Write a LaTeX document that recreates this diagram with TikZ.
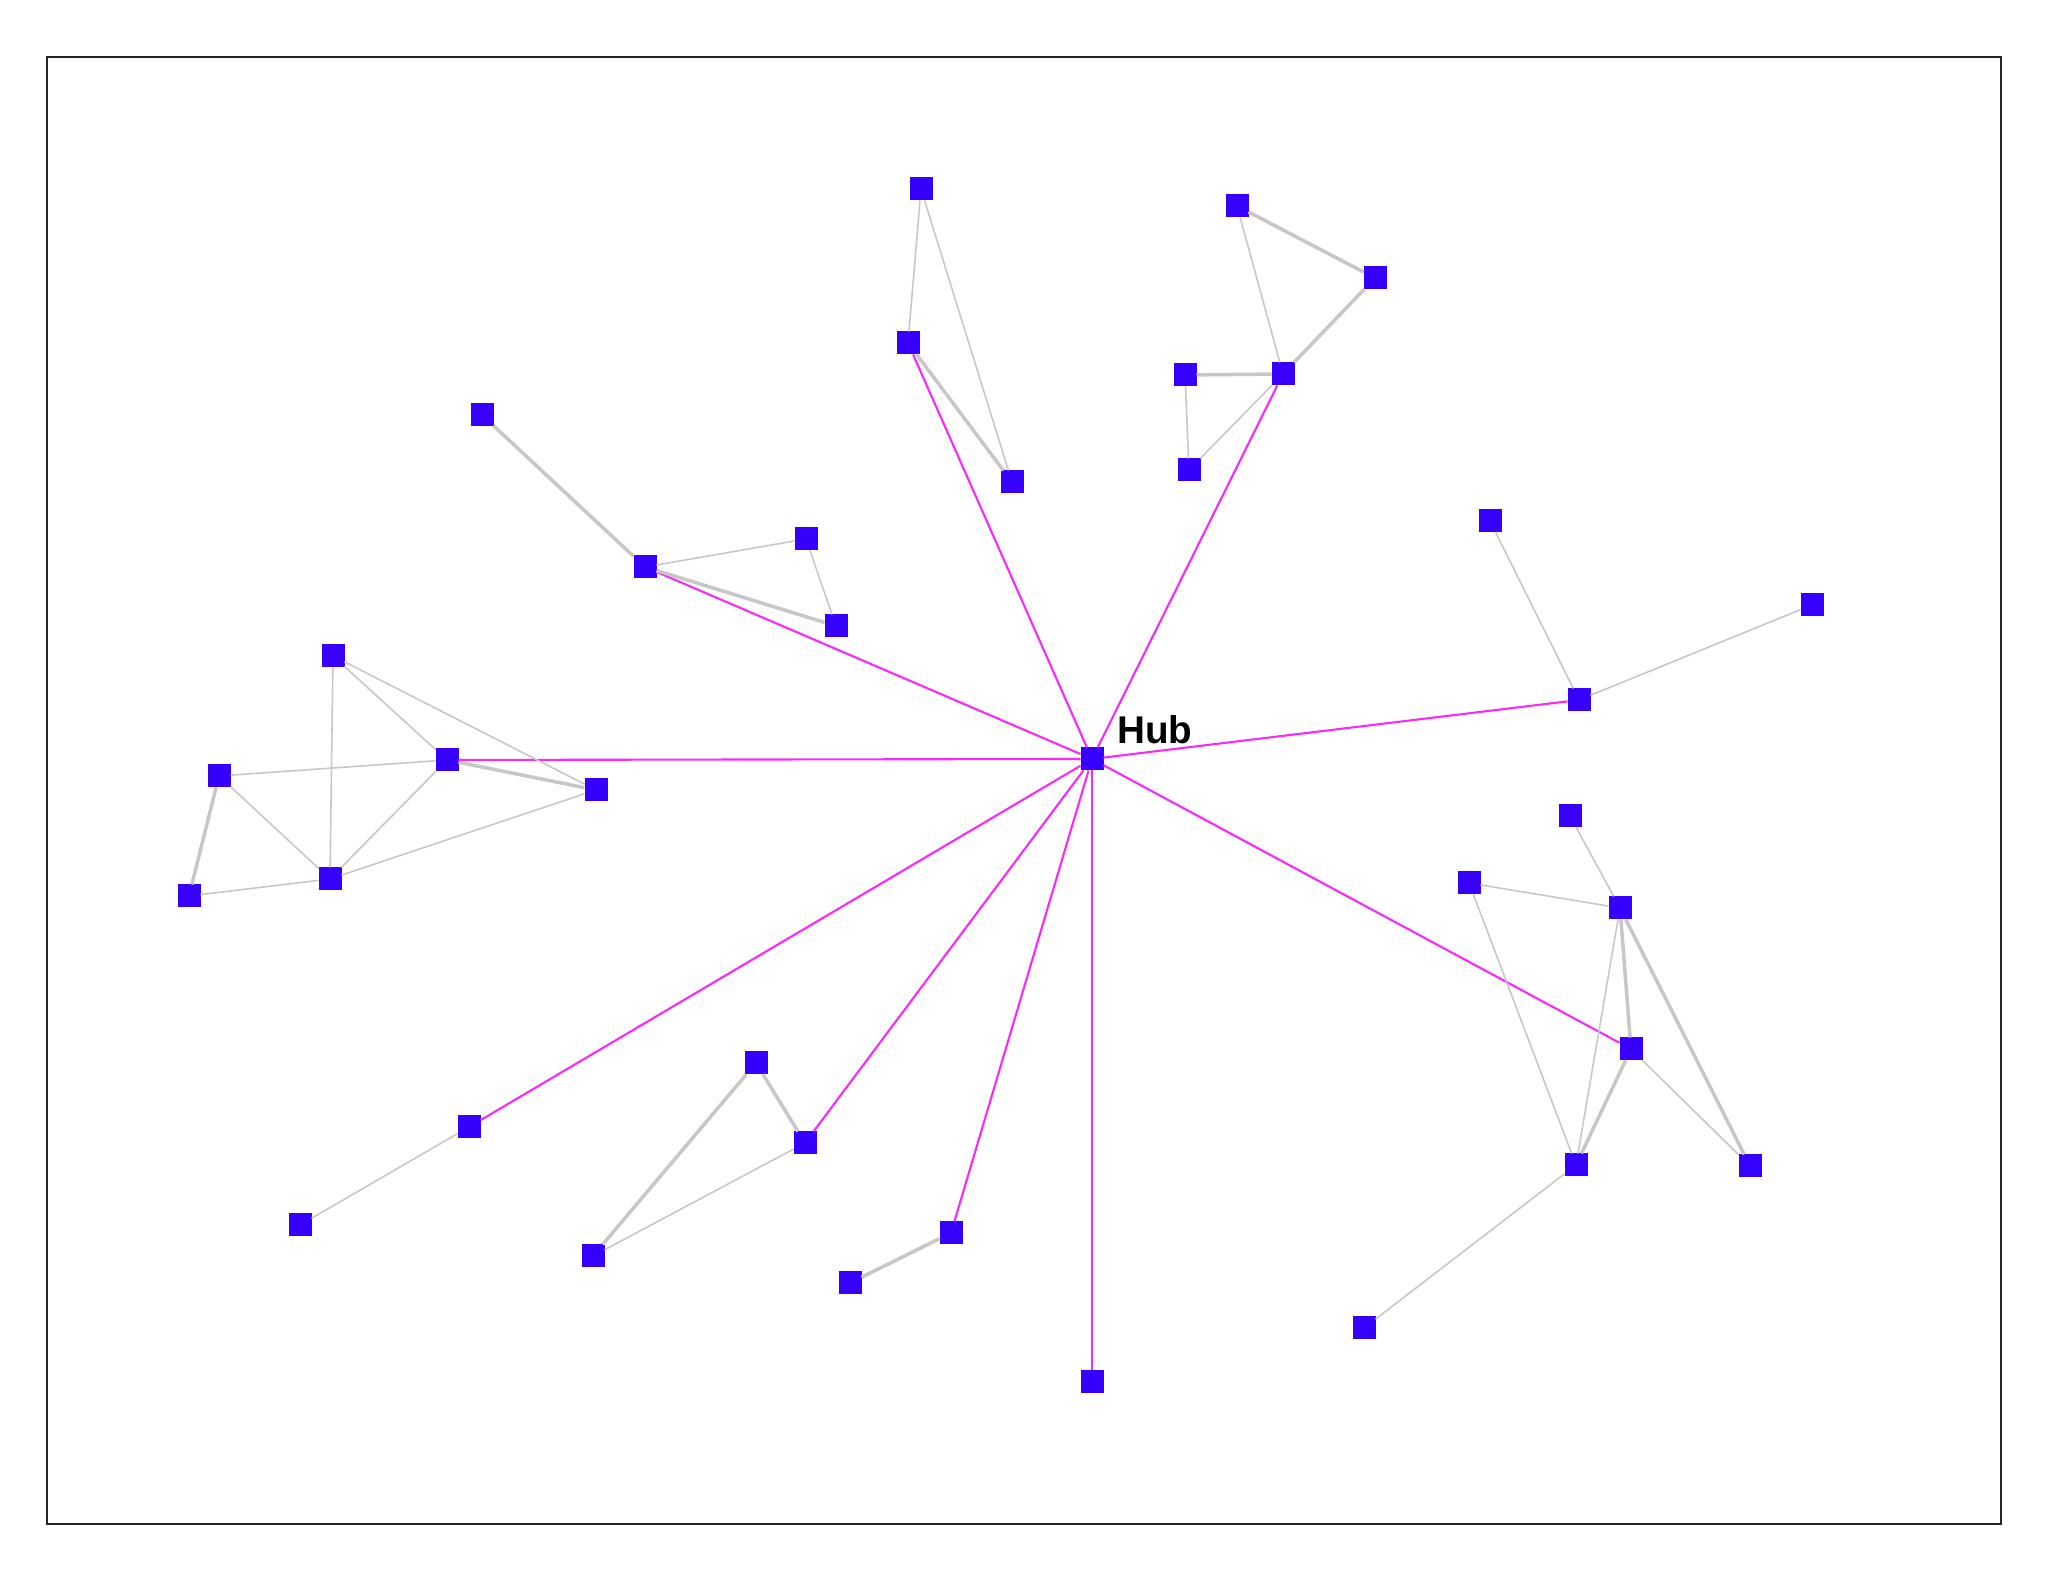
\documentclass[tikz,border=0pt]{standalone}
\usepackage{fontspec}
\setsansfont{Liberation Sans}
\usepackage{tikz}
\definecolor{nodeblue}{RGB}{55,0,250}
\definecolor{spoke}{RGB}{250,40,250}
\definecolor{linkgray}{RGB}{200,198,200}
\tikzset{vert/.style={rectangle, fill=nodeblue, minimum size=0.23cm, inner sep=0pt, outer sep=0pt},
spokeline/.style={spoke, line width=0.6pt},
link/.style={linkgray, line width=0.45pt},
heavylink/.style={linkgray, line width=1pt}}

\begin{document}
\begin{tikzpicture}
\useasboundingbox (0,0) rectangle (20.48,15.82);
% frame
\draw [black!85, line width=0.6pt] (0.47,0.58) rectangle (20.01,15.25);

% hub
\node[vert] (hub) at (10.92,8.23) {};
\node[font=\sffamily\bfseries\fontsize{11}{13}\selectfont, inner sep=0pt] (hubtext) at (11.55,8.52) {Hub};

% vertices
\node[vert] (v2) at (9.21,13.93) {};
\node[vert] (v3) at (9.08,12.39) {};
\node[vert] (v4) at (10.12,11.00) {};
\node[vert] (v5) at (12.37,13.76) {};
\node[vert] (v6) at (13.75,13.04) {};
\node[vert] (v7) at (12.83,12.08) {};
\node[vert] (v8) at (11.85,12.07) {};
\node[vert] (v9) at (11.89,11.12) {};
\node[vert] (v10) at (4.82,11.67) {};
\node[vert] (v11) at (6.45,10.15) {};
\node[vert] (v12) at (8.06,10.43) {};
\node[vert] (v13) at (8.36,9.56) {};
\node[vert] (v14) at (3.33,9.26) {};
\node[vert] (v15) at (2.19,8.06) {};
\node[vert] (v16) at (4.47,8.22) {};
\node[vert] (v17) at (5.96,7.92) {};
\node[vert] (v18) at (1.89,6.86) {};
\node[vert] (v19) at (3.30,7.03) {};
\node[vert] (v20) at (14.90,10.61) {};
\node[vert] (v21) at (18.12,9.77) {};
\node[vert] (v22) at (15.79,8.82) {};
\node[vert] (v23) at (15.70,7.66) {};
\node[vert] (v24) at (14.69,6.99) {};
\node[vert] (v25) at (16.20,6.74) {};
\node[vert] (v26) at (16.31,5.33) {};
\node[vert] (v27) at (15.76,4.17) {};
\node[vert] (v28) at (17.50,4.16) {};
\node[vert] (v29) at (13.64,2.54) {};
\node[vert] (v30) at (4.69,4.55) {};
\node[vert] (v31) at (3.00,3.57) {};
\node[vert] (v32) at (7.56,5.19) {};
\node[vert] (v33) at (8.05,4.39) {};
\node[vert] (v34) at (5.93,3.26) {};
\node[vert] (v35) at (9.51,3.49) {};
\node[vert] (v36) at (8.50,2.99) {};
\node[vert] (v37) at (10.92,2.00) {};

% spokes from the hub
\foreach \v in {3,7,11,16,22,26,30,33,35,37}
     \draw [spokeline] (hub) -- (v\v);

% links inside the groups
\foreach \a/\b in {2/3,2/4,5/7,8/9,9/7,11/12,12/13,14/16,14/17,14/19,15/16,15/19,18/19,16/19,19/17,20/22,21/22,23/25,24/25,24/27,25/27,26/28,27/29,30/31,33/34}
     \draw [link] (v\a) -- (v\b);

\foreach \a/\b in {3/4,5/6,6/7,8/7,10/11,11/13,15/18,16/17,25/26,25/28,26/27,32/33,32/34,35/36}
     \draw [heavylink] (v\a) -- (v\b);

\end{tikzpicture}
\end{document}
